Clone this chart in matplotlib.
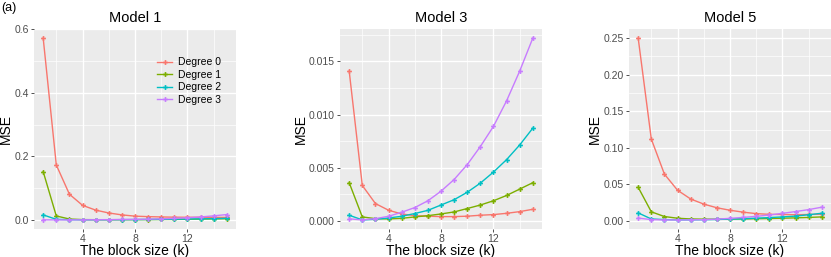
import numpy as np
import matplotlib
matplotlib.use("Agg")
import matplotlib.pyplot as plt

plt.rcParams['font.family'] = ['Liberation Sans', 'DejaVu Sans']

k = np.arange(1, 16)
labels = ["Degree 0", "Degree 1", "Degree 2", "Degree 3"]
colors = ["#F8766D", "#7CAE00", "#00BFC4", "#C77CFF"]
titles = ["Model 1", "Model 3", "Model 5"]

model1 = [
    [0.572, 0.173, 0.081, 0.046, 0.031, 0.022, 0.016, 0.012, 0.0105, 0.0095, 0.0088, 0.0085, 0.0085, 0.0083, 0.0080],
    [0.152, 0.0126, 0.003, 0.0012, 0.0009, 0.0008, 0.0009, 0.001, 0.0012, 0.0015, 0.0018, 0.0022, 0.0027, 0.0033, 0.004],
    [0.016, 0.002, 0.0008, 0.0006, 0.0007, 0.0008, 0.001, 0.0013, 0.0016, 0.002, 0.0025, 0.003, 0.0036, 0.0043, 0.005],
    [0.0003, 0.0002, 0.0003, 0.0005, 0.0008, 0.0011, 0.0015, 0.002, 0.0026, 0.0035, 0.005, 0.007, 0.0095, 0.013, 0.017],
]
model3 = [
    [0.0141, 0.00334, 0.00164, 0.00101, 0.00066, 0.0005, 0.00045, 0.00041, 0.00041, 0.00045, 0.00054, 0.0006, 0.00072, 0.00088, 0.0011],
    [0.0036, 0.00038, 0.00022, 0.00019, 0.00025, 0.00038, 0.0005, 0.00066, 0.00085, 0.00117, 0.0015, 0.0019, 0.0024, 0.003, 0.0036],
    [0.00054, 0.0001, 0.00016, 0.00028, 0.00044, 0.0007, 0.001, 0.0015, 0.002, 0.0027, 0.00356, 0.0046, 0.00577, 0.00715, 0.00873],
    [0.0002, 0.0001, 0.00022, 0.00044, 0.00082, 0.00126, 0.0019, 0.0028, 0.0039, 0.0053, 0.007, 0.0089, 0.0113, 0.0141, 0.0172],
]
model5 = [
    [0.250, 0.112, 0.064, 0.042, 0.030, 0.023, 0.018, 0.0146, 0.012, 0.010, 0.009, 0.0088, 0.0085, 0.0088, 0.0092],
    [0.046, 0.0125, 0.006, 0.0037, 0.0027, 0.0024, 0.0024, 0.0025, 0.0027, 0.003, 0.0033, 0.0037, 0.0042, 0.0048, 0.0055],
    [0.011, 0.0027, 0.0018, 0.0015, 0.0015, 0.0017, 0.002, 0.0025, 0.003, 0.0038, 0.0046, 0.0055, 0.0066, 0.0085, 0.0105],
    [0.0039, 0.0018, 0.0014, 0.0014, 0.0015, 0.0018, 0.0025, 0.0035, 0.0048, 0.0063, 0.0081, 0.0104, 0.0128, 0.0155, 0.0188],
]
models = [model1, model3, model5]
yticks = [[0.0, 0.2, 0.4, 0.6],
          [0.0, 0.005, 0.010, 0.015],
          [0.0, 0.05, 0.10, 0.15, 0.20, 0.25]]
yfmt = ["{:.1f}", "{:.3f}", "{:.2f}"]

W, H = 831, 257
fig = plt.figure(figsize=(W / 100, H / 100), dpi=100)

lefts = [34, 340, 629]
pw = 202
top, bottom = 29, 229

for i, data in enumerate(models):
    ax = fig.add_axes([lefts[i] / W, 1 - bottom / H, pw / W, (bottom - top) / H])
    ax.set_facecolor("#EBEBEB")
    for s in ax.spines.values():
        s.set_visible(False)

    for j, series in enumerate(data):
        ax.plot(k, series, color=colors[j], lw=1.0, marker="P", ms=3.5,
                mew=0, label=labels[j], zorder=3)

    allv = np.concatenate(data)
    lo, hi = allv.min(), allv.max()
    pad = 0.05 * (hi - lo)
    ax.set_xlim(1 - 0.7, 15 + 0.7)

    yt = yticks[i]
    ax.set_yticks(yt)
    ax.set_yticklabels([yfmt[i].format(v) for v in yt])
    step = yt[1] - yt[0]
    ax.set_yticks([v + step / 2 for v in yt[:-1]] + [yt[0] - step / 2, yt[-1] + step / 2], minor=True)
    ax.set_xticks([4, 8, 12])
    ax.set_xticks([2, 6, 10, 14], minor=True)
    ax.set_ylim(lo - pad, hi + pad)

    ax.grid(True, which="major", color="white", lw=1.0)
    ax.grid(True, which="minor", color="white", lw=0.5)
    ax.set_axisbelow(True)
    ax.tick_params(which="major", length=2.5, width=0.6, color="#333333",
                   labelsize=7.5, labelcolor="#4D4D4D", pad=1.2)
    ax.tick_params(which="minor", length=0)

    ax.set_title(titles[i], fontsize=10.5, pad=5)
    ax.set_xlabel("The block size (k)", fontsize=10, labelpad=0)
    ax.set_ylabel("MSE", fontsize=10, labelpad=1)

    if i == 0:
        ax.legend(loc="upper left", bbox_to_anchor=(0.59, 0.88),
                  fontsize=7.5, frameon=False, handlelength=1.4,
                  handletextpad=0.6, labelspacing=0.25, borderaxespad=0)

fig.text(1 / W, 1 - 8 / H, "(a)", fontsize=9, va="center", ha="left")

fig.savefig("out.png", dpi=100)
